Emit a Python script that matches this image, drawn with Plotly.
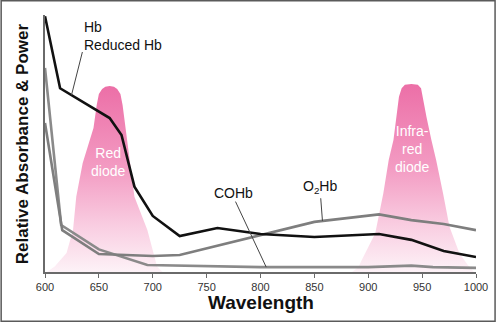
import numpy as np
import plotly.graph_objects as go

# Wavelength (nm) sample points and relative absorbance for each haemoglobin form
hb_wl = [600, 614, 660, 671, 683, 700, 725, 760, 800, 850, 910, 940, 970, 1000]
hb_abs = [99.5, 71.5, 59.9, 53.3, 33.2, 21.8, 14.0, 17.1, 14.8, 13.6, 14.8, 12.5, 8.2, 5.8]

o2hb_wl = [600, 616, 650, 700, 725, 850, 910, 940, 970, 1000]
o2hb_abs = [58.0, 16.3, 7.0, 6.2, 6.6, 19.5, 22.4, 20.2, 18.7, 16.3]

cohb_wl = [600, 615, 650, 695, 800, 900, 940, 960, 1000]
cohb_abs = [79.4, 18.3, 8.8, 2.7, 1.9, 1.9, 2.5, 1.9, 1.6]

# Emission power of the two LEDs
red_wl = [600, 602, 609, 620, 626, 629, 635, 645, 648, 650, 653, 656, 660,
          664, 667, 670, 672, 675, 683, 695, 700, 704, 709]
red_pw = [0, 0.1, 2.1, 7.4, 16.3, 29.3, 42.4, 56.0, 65.0, 69.3, 71.2, 72.1, 72.4,
          72.1, 71.2, 69.3, 65.0, 55.3, 29.3, 16.3, 8.6, 2.1, 0]

ir_wl = [885, 891, 894, 906.5, 914, 919, 923.4, 926.4, 928.5, 931, 934, 940,
         946, 949, 950.3, 954, 958.6, 963, 969.4, 975.4, 984.6, 992.4, 998]
ir_pw = [0, 1.9, 4.7, 15.1, 30.6, 43.6, 51.4, 60.4, 68.2, 71.5, 72.9, 73.2,
         72.9, 71.5, 68.2, 60.4, 51.4, 43.6, 30.6, 17.6, 7.3, 2.7, 0]

x_ticks = [600, 650, 700, 750, 800, 850, 900, 950, 1000]

FONT = "Liberation Sans, Arial, Helvetica, sans-serif"
PINK_SCALE = [[0.0, "rgba(253,242,247,1)"], [0.25, "#f9cde1"],
              [0.55, "#f39cc3"], [1.0, "#ec6fa7"]]

fig = go.Figure()

for wl, pw in [(red_wl, red_pw), (ir_wl, ir_pw)]:
    fig.add_trace(go.Scatter(
        x=wl, y=pw, mode="lines", line=dict(width=0, color="rgba(0,0,0,0)"),
        fill="toself",
        fillgradient=dict(type="vertical", colorscale=PINK_SCALE),
        hoverinfo="skip", showlegend=False,
    ))

fig.add_trace(go.Scatter(x=cohb_wl, y=cohb_abs, mode="lines",
                         line=dict(color="#8a8a8a", width=2.6), showlegend=False))
fig.add_trace(go.Scatter(x=o2hb_wl, y=o2hb_abs, mode="lines",
                         line=dict(color="#7e7e7e", width=2.6), showlegend=False))
fig.add_trace(go.Scatter(x=hb_wl, y=hb_abs, mode="lines",
                         line=dict(color="#111111", width=2.6), showlegend=False))

# Leader lines from labels to curves
leaders = [
    ((634.7, 85.6), 624.6, hb_wl, hb_abs),
    ((776.8, 27.4), 805.3, cohb_wl, cohb_abs),
    ((855.9, 28.7), 857.5, o2hb_wl, o2hb_abs),
]
for (x0, y0), x1, wl, vals in leaders:
    fig.add_shape(type="line", xref="x", yref="y", x0=x0, y0=y0,
                  x1=x1, y1=float(np.interp(x1, wl, vals)),
                  line=dict(color="#444444", width=1))

# Outer frame
fig.add_shape(type="rect", xref="paper", yref="paper",
              x0=(0.75 - 45) / 435, x1=(499.25 - 45) / 435,
              y0=(272 - 321.25) / 257, y1=(272 - 0.75) / 257,
              line=dict(color="#5a5a5a", width=1.5))

ann = dict(showarrow=False, font=dict(family=FONT, size=14, color="#111111"))
fig.add_annotation(x=634.7, y=95.4, text="Hb", xanchor="left", yanchor="middle", **ann)
fig.add_annotation(x=634.7, y=88.3, text="Reduced Hb", xanchor="left", yanchor="middle", **ann)
fig.add_annotation(x=775.2, y=30.9, text="COHb", xanchor="center", yanchor="middle", **ann)
fig.add_annotation(x=855.2, y=32.9, text="O<sub>2</sub>Hb", xanchor="center", yanchor="middle", **ann)

white = dict(showarrow=False, font=dict(family=FONT, size=14, color="white"))
fig.add_annotation(x=658, y=42.8, text="Red<br>diode", xanchor="center", yanchor="middle", **white)
fig.add_annotation(x=940.7, y=47.7, text="Infra-<br>red<br>diode", xanchor="center", yanchor="middle", **white)

# Axis titles
fig.add_annotation(xref="paper", yref="paper", x=0.5, y=(272 - 302) / 257,
                   text="<b>Wavelength</b>", showarrow=False,
                   xanchor="center", yanchor="middle",
                   font=dict(family=FONT, size=19, color="#111111"))
fig.add_annotation(xref="paper", yref="paper", x=(22 - 45) / 435, y=(272 - 144) / 257,
                   text="<b>Relative Absorbance &amp; Power</b>", showarrow=False,
                   textangle=-90, xanchor="center", yanchor="middle",
                   font=dict(family=FONT, size=17, color="#111111"))

fig.update_layout(
    width=500, height=322,
    margin=dict(l=45, r=20, t=15, b=50),
    paper_bgcolor="white", plot_bgcolor="white",
    font=dict(family=FONT),
    xaxis=dict(range=[600, 1000], tickvals=x_ticks, ticktext=[str(t) for t in x_ticks],
               showline=True, linecolor="#6a6a6a", linewidth=1.5,
               ticks="outside", ticklen=4, tickcolor="#6a6a6a", tickwidth=1,
               showgrid=False, zeroline=False,
               tickfont=dict(family=FONT, size=11, color="#333333")),
    yaxis=dict(range=[0, 100], showline=True, linecolor="#6a6a6a", linewidth=1.5,
               showticklabels=False, ticks="", showgrid=False, zeroline=False),
)

fig.write_html("out.html", config={"displayModeBar": False})
